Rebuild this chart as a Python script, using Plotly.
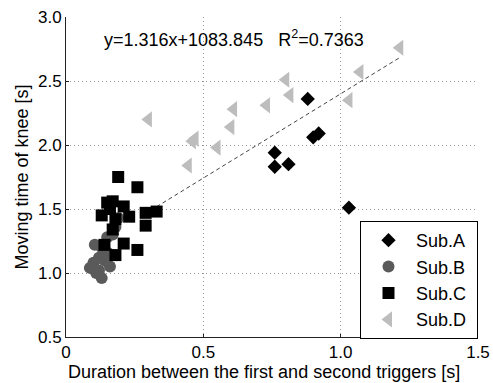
import plotly.graph_objects as go

# ---- data ----
subA_x = [0.76, 0.76, 0.81, 0.88, 0.90, 0.92, 1.03]
subA_y = [1.94, 1.83, 1.85, 2.36, 2.06, 2.09, 1.51]

subB_x = [0.19, 0.18, 0.15, 0.105, 0.12, 0.15, 0.087, 0.16, 0.13, 0.11, 0.14, 0.13, 0.17, 0.10, 0.12]
subB_y = [1.43, 1.36, 1.28, 1.22, 1.12, 1.16, 1.04, 1.05, 0.96, 1.00, 1.10, 1.20, 1.30, 1.08, 1.02]

subC_x = [0.19, 0.26, 0.15, 0.17, 0.13, 0.21, 0.23, 0.29, 0.33, 0.29, 0.17, 0.14, 0.21, 0.18, 0.26, 0.18, 0.16]
subC_y = [1.75, 1.67, 1.55, 1.56, 1.45, 1.52, 1.44, 1.47, 1.48, 1.37, 1.34, 1.22, 1.23, 1.14, 1.18, 1.42, 1.50]

subD_x = [0.30, 0.46, 0.47, 0.445, 0.55, 0.60, 0.61, 0.73, 0.80, 0.815, 1.03, 1.07, 1.215]
subD_y = [2.20, 2.03, 2.05, 1.84, 1.98, 2.14, 2.28, 2.31, 2.51, 2.39, 2.35, 2.57, 2.76]

fit_slope = 1.316
fit_intercept = 1.083845
fit_x = [0.33, 1.22]
fit_y = [fit_slope * v + fit_intercept for v in fit_x]

x_ticks = [0, 0.5, 1.0, 1.5]
x_ticktext = ["0", "0.5", "1.0", "1.5"]
y_ticks = [0.5, 1.0, 1.5, 2.0, 2.5, 3.0]

FONT = "Arial, Liberation Sans, sans-serif"
NB = "\u00a0"

fig = go.Figure()
fig.add_trace(go.Scatter(x=fit_x, y=fit_y, mode="lines", showlegend=False,
                         line=dict(color="#444444", width=1, dash="4px,3px"), hoverinfo="skip"))
fig.add_trace(go.Scatter(x=subA_x, y=subA_y, mode="markers", name="Sub.A" + NB, legendrank=1,
                         marker=dict(symbol="diamond", size=11, color="#000000")))
fig.add_trace(go.Scatter(x=subB_x, y=subB_y, mode="markers", name="Sub.B" + NB, legendrank=2,
                         marker=dict(symbol="circle", size=12, color="#5a5a5a")))
fig.add_trace(go.Scatter(x=subC_x, y=subC_y, mode="markers", name="Sub.C" + NB, legendrank=3,
                         marker=dict(symbol="square", size=12, color="#000000")))
fig.add_trace(go.Scatter(x=subD_x, y=subD_y, mode="markers", name="Sub.D" + NB, legendrank=4,
                         marker=dict(symbol="triangle-left", size=14, color="#bdbdbd")))

fig.update_layout(
    width=493, height=383,
    margin=dict(l=66, r=15, t=17, b=46),
    paper_bgcolor="white", plot_bgcolor="white",
    font=dict(family=FONT, size=17, color="black"),
    showlegend=True,
    legend=dict(
        x=1.0, xanchor="right", y=0.3625, yanchor="top",
        bgcolor="white", bordercolor="black", borderwidth=1,
        font=dict(size=18), itemwidth=45,
    ),
    xaxis=dict(
        range=[0, 1.5], tickvals=x_ticks, ticktext=x_ticktext, automargin=False,
        showline=True, linecolor="#222222", linewidth=1,
        showgrid=True, gridcolor="#999999", griddash="1px,3px", gridwidth=1,
        ticks="inside", ticklen=3, tickcolor="#222222",
        zeroline=False,
    ),
    yaxis=dict(
        range=[0.5, 3.0], tickvals=y_ticks, tickformat=".1f", automargin=False,
        showline=True, linecolor="#222222", linewidth=1,
        showgrid=True, gridcolor="#999999", griddash="1px,3px", gridwidth=1,
        ticks="inside", ticklen=3, tickcolor="#222222",
        zeroline=False,
        title=dict(text="Moving time of knee [s]", font=dict(size=18), standoff=4),
    ),
    annotations=[
        dict(
            x=0.087, y=0.934, xref="paper", yref="paper", xanchor="left", yanchor="middle",
            text="y=1.316x+1083.845   R<sup>2</sup>=0.7363", showarrow=False,
            font=dict(size=18, family=FONT, color="black"),
        ),
        dict(
            x=0.48, y=-0.109, xref="paper", yref="paper", xanchor="center", yanchor="middle",
            text="Duration between the first and second triggers [s]", showarrow=False,
            font=dict(size=18, family=FONT, color="black"),
        ),
    ],
)

fig.write_html("out.html")
